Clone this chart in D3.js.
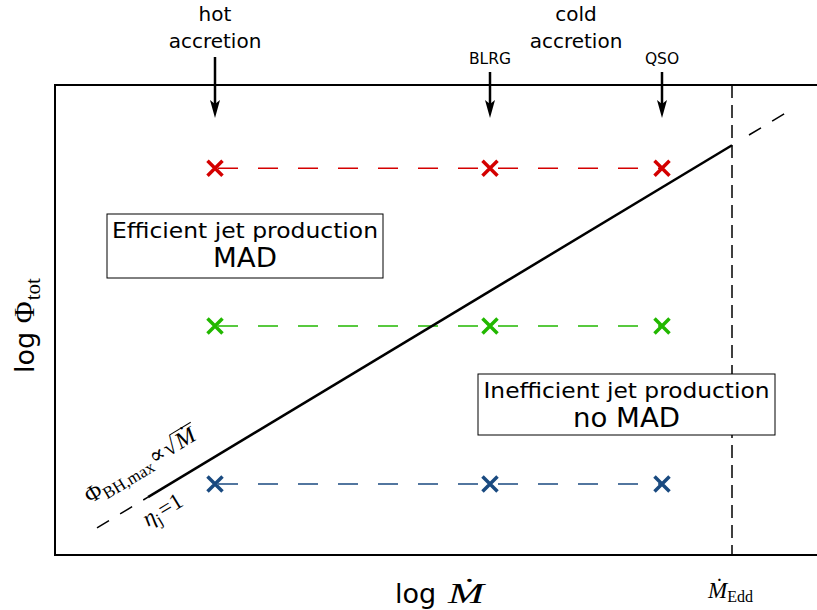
<!DOCTYPE html>
<html>
<head>
<meta charset="utf-8">
<script src="https://cdn.jsdelivr.net/npm/d3@7"></script>
<style>
  body { margin: 0; background: #fff; }
  text { font-family: "DejaVu Sans", sans-serif; }
  .math { font-family: "Liberation Serif", "DejaVu Serif", serif; }
</style>
</head>
<body>
<div id="chart"></div>
<script>
const w = 817,
      h = 610;

// accretion regimes, x = log(Mdot / Mdot_Edd)
const sources = ['hot', 'BLRG', 'QSO'];
const logMdot = [-5.17, -2.42, -0.70];
const eddington = 0;

// magnetic flux levels, y = log Phi_tot (top to bottom)
const fluxLevels = [3.21, 1.90, 0.59];
const fluxColors = ['#d40000', '#22b800', '#1a4a80'];

// Phi_BH,max ~ sqrt(Mdot): value at Mdot_Edd and slope 1/2
const phiMaxEdd = 3.40;
const phiSlope = 0.5;
const solidRange = [-5.84, 0];
const dashRanges = [[-6.35, -5.84], [0.17, 0.53]];

const svg = d3.select('#chart')
  .append('svg')
  .attr('width', w)
  .attr('height', h);

const xScale = d3.scaleLinear()
  .domain([-6.77, 0.90])
  .range([55, 822]);

const yScale = d3.scaleLinear()
  .domain([0, 3.9])
  .range([555, 85]);

const phiMax = v => phiMaxEdd + phiSlope * (v - eddington);

// frame
svg.append('rect')
   .attr('x', xScale.range()[0])
   .attr('y', yScale.range()[1])
   .attr('width', xScale.range()[1] - xScale.range()[0])
   .attr('height', yScale.range()[0] - yScale.range()[1])
   .style('fill', 'none')
   .style('stroke', '#000')
   .style('stroke-width', 2);

// Eddington limit
svg.append('line')
   .attr('x1', xScale(eddington))
   .attr('x2', xScale(eddington))
   .attr('y1', yScale.range()[1])
   .attr('y2', yScale.range()[0])
   .style('stroke', '#000')
   .style('stroke-width', 1.5)
   .style('stroke-dasharray', '13,7');

// dashed flux levels
svg.selectAll('line.level')
   .data(fluxLevels)
   .enter()
   .append('line')
   .attr('class', 'level')
   .attr('x1', xScale(logMdot[0]) + 3)
   .attr('x2', xScale(logMdot[logMdot.length - 1]))
   .attr('y1', d => yScale(d))
   .attr('y2', d => yScale(d))
   .style('stroke', (d, i) => fluxColors[i])
   .style('stroke-width', 1.5)
   .style('stroke-dasharray', '20,20');

// Phi_max line: dashed extensions, solid part
svg.selectAll('line.ext')
   .data(dashRanges)
   .enter()
   .append('line')
   .attr('class', 'ext')
   .attr('x1', d => xScale(d[0]))
   .attr('y1', d => yScale(phiMax(d[0])))
   .attr('x2', d => xScale(d[1]))
   .attr('y2', d => yScale(phiMax(d[1])))
   .style('stroke', '#000')
   .style('stroke-width', 1.5)
   .style('stroke-dasharray', '14,13');

svg.append('line')
   .attr('x1', xScale(solidRange[0]))
   .attr('y1', yScale(phiMax(solidRange[0])))
   .attr('x2', xScale(solidRange[1]))
   .attr('y2', yScale(phiMax(solidRange[1])))
   .style('stroke', '#000')
   .style('stroke-width', 2.5);

// crosses
const points = [];
fluxLevels.forEach((f, i) => logMdot.forEach(m => points.push({m, f, c: fluxColors[i]})));

const s = 7.5;
svg.selectAll('path.cross')
   .data(points)
   .enter()
   .append('path')
   .attr('class', 'cross')
   .attr('transform', d => `translate(${xScale(d.m)}, ${yScale(d.f)})`)
   .attr('d', `M${-s},${-s}L${s},${s}M${-s},${s}L${s},${-s}`)
   .style('stroke', d => d.c)
   .style('stroke-width', 3.5)
   .style('fill', 'none');

// arrows from the top
const arrowTop = [57, 72, 72];
const arrows = svg.selectAll('g.arrow')
   .data(logMdot)
   .enter()
   .append('g')
   .attr('class', 'arrow')
   .attr('transform', d => `translate(${xScale(d)}, 0)`);

arrows.append('line')
      .attr('y1', (d, i) => arrowTop[i])
      .attr('y2', 106)
      .style('stroke', '#000')
      .style('stroke-width', 2.5);

arrows.append('path')
      .attr('d', 'M0,118L-5,100L0,104L5,100Z')
      .style('fill', '#000');

// labels above the frame
const topLabel = (x, y, size, str) => svg.append('text')
  .attr('x', x).attr('y', y)
  .attr('text-anchor', 'middle')
  .style('font-size', size + 'px')
  .text(str);

topLabel(xScale(logMdot[0]), 21, 20, 'hot');
topLabel(xScale(logMdot[0]), 48, 20, 'accretion');
topLabel(576, 21, 20, 'cold');
topLabel(576, 48, 20, 'accretion');
topLabel(xScale(logMdot[1]), 64, 15.5, sources[1]);
topLabel(xScale(logMdot[2]), 64, 15.5, sources[2]);

// regime boxes
const box = (x0, y0, x1, y1, line1, len1, line2, len2) => {
  const g = svg.append('g');
  g.append('rect')
   .attr('x', x0).attr('y', y0)
   .attr('width', x1 - x0).attr('height', y1 - y0)
   .style('fill', '#fff')
   .style('stroke', '#000')
   .style('stroke-width', 1);
  const cx = (x0 + x1) / 2;
  g.append('text').attr('x', cx).attr('y', y0 + 24)
   .attr('text-anchor', 'middle').style('font-size', '22px')
   .attr('textLength', len1).attr('lengthAdjust', 'spacingAndGlyphs')
   .text(line1);
  g.append('text').attr('x', cx).attr('y', y0 + 53)
   .attr('text-anchor', 'middle').style('font-size', '26px')
   .attr('textLength', len2).attr('lengthAdjust', 'spacingAndGlyphs')
   .text(line2);
};

box(107, 214, 383, 278, 'Efficient jet production', 266, 'MAD', 64);
box(478, 374, 775, 435, 'Inefficient jet production', 286, 'no MAD', 107);

// axis labels
svg.append('text')
   .attr('x', 395)
   .attr('y', 603)
   .style('font-size', '27px')
   .text('log');
svg.append('text')
   .attr('class', 'math')
   .attr('x', 448)
   .attr('y', 603)
   .attr('textLength', 36)
   .attr('lengthAdjust', 'spacingAndGlyphs')
   .style('font-style', 'italic')
   .style('font-size', '30px')
   .text('Ṁ');

const yl = svg.append('text')
  .attr('transform', 'translate(34, 373) rotate(-90)')
  .style('font-size', '27px');
yl.append('tspan').text('log ');
yl.append('tspan').attr('class', 'math').style('font-size', '30px').text('Φ');
yl.append('tspan').attr('class', 'math').attr('dy', 6).attr('dx', 1).style('font-size', '21px').text('tot');

const edd = svg.append('text')
  .attr('class', 'math')
  .attr('x', xScale(eddington) - 24)
  .attr('y', 598);
edd.append('tspan').style('font-style', 'italic').style('font-size', '23px').text('Ṁ');
edd.append('tspan').attr('dy', 4).style('font-size', '16px').text('Edd');

// annotations along the Phi_max line
const angle = Math.atan2(yScale(phiMax(0)) - yScale(phiMax(-1)), xScale(0) - xScale(-1)) * 180 / Math.PI;

const ann1 = svg.append('g')
  .attr('transform', `translate(90, 504) rotate(${angle})`);
const t1 = ann1.append('text').attr('class', 'math').style('font-size', '23px');
t1.append('tspan').text('Φ');
t1.append('tspan').attr('dy', 5).style('font-size', '17px').text('BH,max');
t1.append('tspan').attr('dy', -5).attr('dx', 1).text('∝');
t1.append('tspan').attr('dx', 1).text('√');
const bb = t1.node().getBBox();
const mdot = ann1.append('text').attr('class', 'math')
  .attr('x', bb.x + bb.width + 1)
  .attr('textLength', 20)
  .attr('lengthAdjust', 'spacingAndGlyphs')
  .style('font-size', '23px')
  .style('font-style', 'italic')
  .text('Ṁ');
const mb = mdot.node().getBBox();
ann1.append('line')
    .attr('x1', bb.x + bb.width - 1)
    .attr('x2', mb.x + mb.width + 1)
    .attr('y1', bb.y + 2)
    .attr('y2', bb.y + 2)
    .style('stroke', '#000')
    .style('stroke-width', 1);

const ann2 = svg.append('g')
  .attr('transform', `translate(148, 527) rotate(${angle})`);
const t2 = ann2.append('text').attr('class', 'math').style('font-size', '23px');
t2.append('tspan').style('font-style', 'italic').text('η');
t2.append('tspan').attr('dy', 5).style('font-size', '17px').text('j');
t2.append('tspan').attr('dy', -5).attr('dx', 2).text('=1');
</script>
</body>
</html>
